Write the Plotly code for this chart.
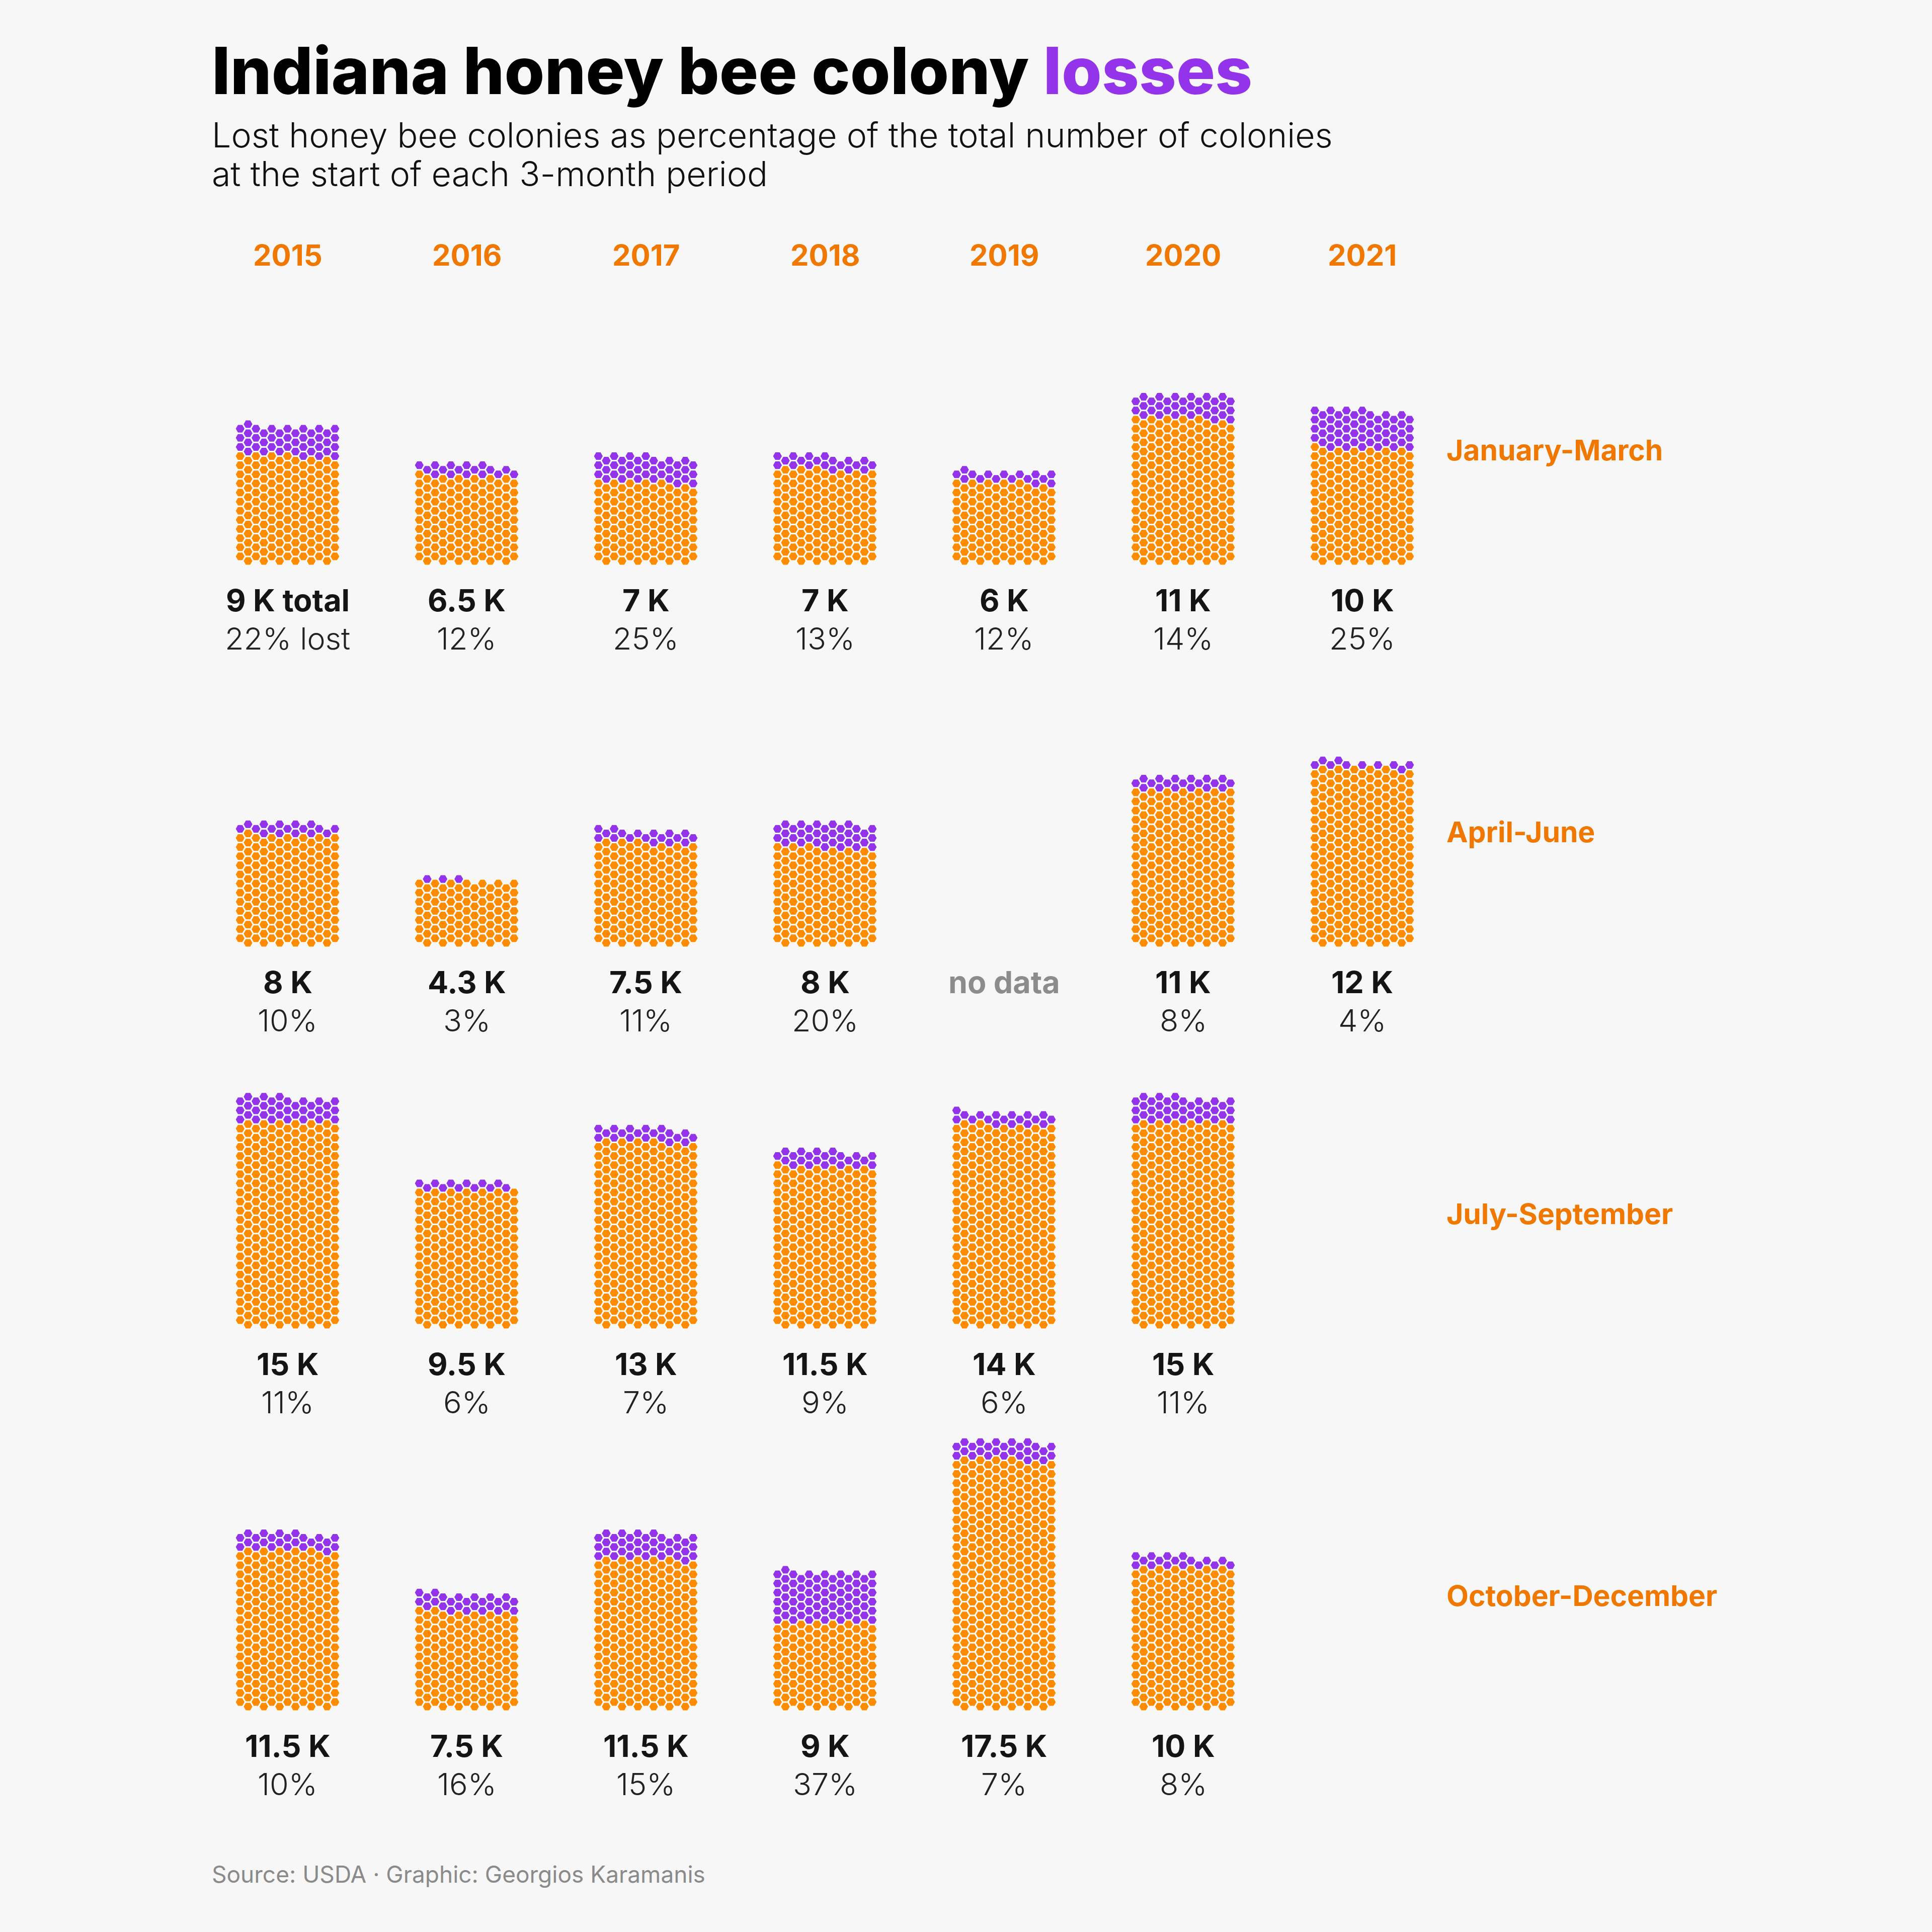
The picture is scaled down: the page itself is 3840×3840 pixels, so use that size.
import plotly.graph_objects as go
import math

# ---------------- data ----------------
years = [2015, 2016, 2017, 2018, 2019, 2020, 2021]
quarters = ["January-March", "April-June", "July-September", "October-December"]

# total colonies at start of period (thousands); None = no data
total_q1 = [9, 6.5, 7, 7, 6, 11, 10]
total_q2 = [8, 4.3, 7.5, 8, None, 11, 12]
total_q3 = [15, 9.5, 13, 11.5, 14, 15, None]
total_q4 = [11.5, 7.5, 11.5, 9, 17.5, 10, None]

# percent of colonies lost
lost_q1 = [22, 12, 25, 13, 12, 14, 25]
lost_q2 = [10, 3, 11, 20, None, 8, 4]
lost_q3 = [11, 6, 7, 9, 6, 11, None]
lost_q4 = [10, 16, 15, 37, 7, 8, None]

# number of hexagons drawn per cell (counted from the picture)
hex_q1 = [196, 141, 153, 153, 131, 240, 218]
hex_q2 = [174, 94, 164, 174, None, 240, 262]
hex_q3 = [328, 207, 284, 251, 306, 328, None]
hex_q4 = [251, 164, 251, 196, 382, 218, None]

totals = [total_q1, total_q2, total_q3, total_q4]
losts = [lost_q1, lost_q2, lost_q3, lost_q4]
hexes = [hex_q1, hex_q2, hex_q3, hex_q4]

# ---------------- styling / layout ----------------
W = H = 3840
BG = "#F7F7F7"
ORANGE = "#FF8C00"
PURPLE = "#9333EA"
TXT_ORANGE = "#F07800"
DARK = "#141414"
FONT = "Inter"

X0, DX = 571.5, 356.0      # centre of first column, column spacing
Y0, DY = 1115.0, 759.0     # bottom hex row of first period, period spacing
COL = 15.7                 # horizontal spacing of hex columns
LEVEL = 9.065              # vertical half-step
R = 9.6                    # hex circumradius


def hex_centers(n):
    pts = []
    level = 0
    while len(pts) < n:
        cols = [2 * k + 1 for k in range(6)] if level % 2 == 0 else [2 * k for k in range(7)]
        for c in cols:
            if len(pts) >= n:
                break
            pts.append((c, level))
        level += 1
    return pts


angles = [math.radians(a) for a in range(0, 360, 60)]
poly = {"o": ([], []), "p": ([], [])}

for qi in range(len(quarters)):
    for yi in range(len(years)):
        n = hexes[qi][yi]
        if n is None:
            continue
        npurple = int(n * losts[qi][yi] / 100 + 0.5)
        xc = X0 + yi * DX
        yb = Y0 + qi * DY
        for idx, (c, lv) in enumerate(hex_centers(n)):
            cx = xc + (c - 6) * COL
            cy = yb - lv * LEVEL
            key = "p" if idx >= n - npurple else "o"
            xs, ys = poly[key]
            for a in angles + [angles[0]]:
                xs.append(cx + R * math.cos(a))
                ys.append(cy + R * math.sin(a))
            xs.append(None)
            ys.append(None)

fig = go.Figure()
for key, col in (("o", ORANGE), ("p", PURPLE)):
    xs, ys = poly[key]
    fig.add_trace(go.Scatter(
        x=xs, y=ys, mode="lines", fill="toself", fillcolor=col,
        line=dict(color="white", width=1.5), hoverinfo="skip", showlegend=False))

ann = []


def add(text, x, y, size, color=DARK, weight=400, xanchor="center"):
    ann.append(dict(text=text, x=x, y=y, xref="x", yref="y", showarrow=False,
                    xanchor=xanchor, yanchor="middle",
                    font=dict(family=FONT, size=size, color=color, weight=weight)))


add("Indiana honey bee colony <span style='color:%s'>losses</span>" % PURPLE,
    419, 140, 129, color="#000000", weight=800, xanchor="left")
add("Lost honey bee colonies as percentage of the total number of colonies",
    419, 268, 68, color="#111111", weight=300, xanchor="left")
add("at the start of each 3-month period",
    419, 345, 68, color="#111111", weight=300, xanchor="left")

for yi, yr in enumerate(years):
    add(str(yr), X0 + yi * DX, 507, 58, color=TXT_ORANGE, weight=700)

for qi, q in enumerate(quarters):
    yb = Y0 + qi * DY
    add(q, 2873, yb - 221, 57, color=TXT_ORANGE, weight=700, xanchor="left")
    for yi in range(len(years)):
        xc = X0 + yi * DX
        t = totals[qi][yi]
        if t is None:
            if qi == 1:
                add("no data", xc, yb + 78, 61, color="#8C8C8C", weight=700)
            continue
        lab = "%g K" % t + (" total" if (qi == 0 and yi == 0) else "")
        pct = "%d%%" % losts[qi][yi] + (" lost" if (qi == 0 and yi == 0) else "")
        add(lab, xc, yb + 78, 61, weight=700)
        add(pct, xc, yb + 154, 61, color="#222222", weight=300)

add("Source: USDA · Graphic: Georgios Karamanis", 419, 3725, 46,
    color="#8A8A8A", weight=400, xanchor="left")

fig.update_layout(
    width=W, height=H, margin=dict(l=0, r=0, t=0, b=0),
    paper_bgcolor=BG, plot_bgcolor=BG, annotations=ann,
    xaxis=dict(range=[0, W], visible=False, fixedrange=True),
    yaxis=dict(range=[H, 0], visible=False, fixedrange=True),
)
fig.write_html("out.html")
